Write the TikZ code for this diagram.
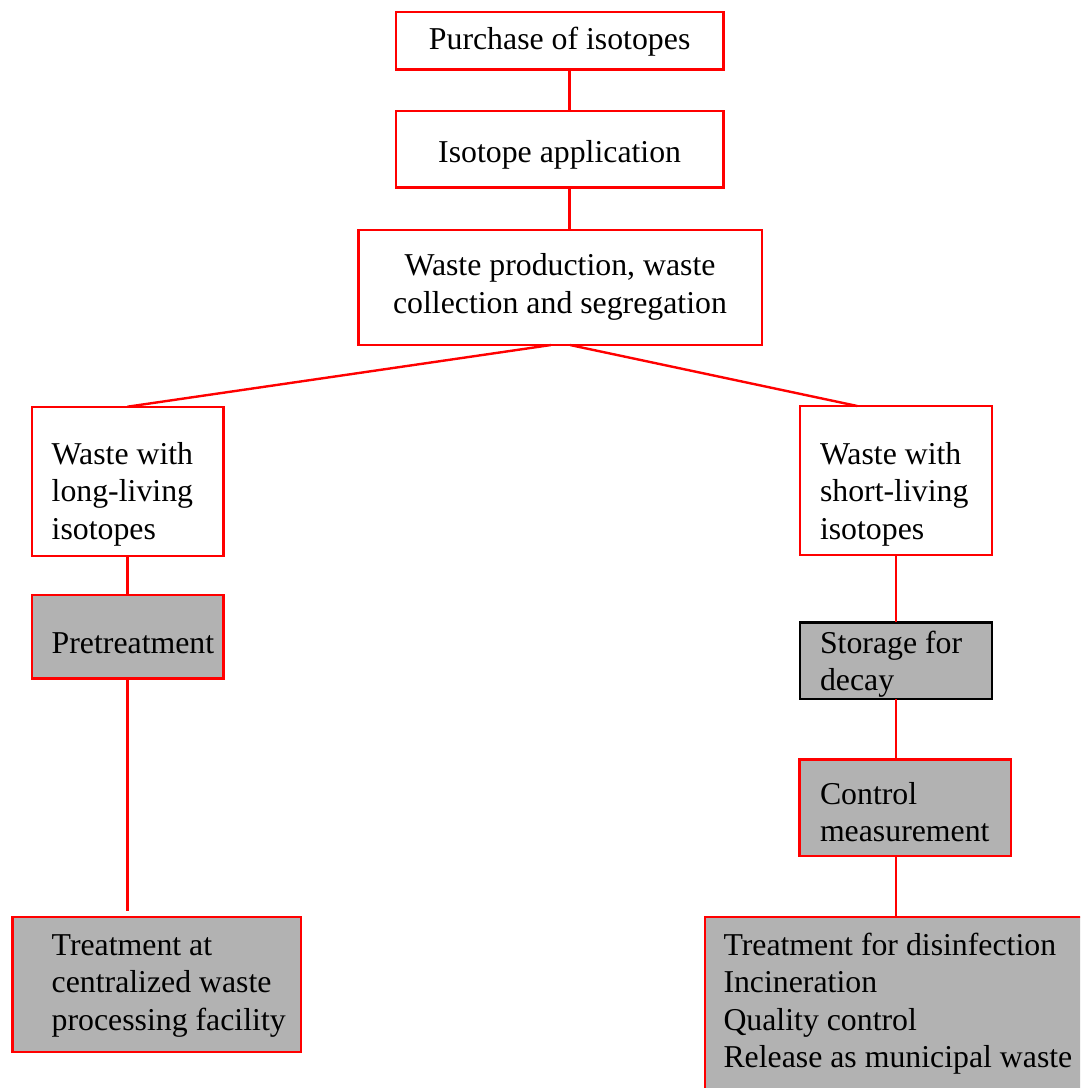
\documentclass[tikz,border=0pt]{standalone}
\usepackage{fontspec}
\setmainfont{Liberation Serif}
\definecolor{bred}{RGB}{255,0,0}
\definecolor{bgray}{RGB}{178,178,178}
\begin{document}
\begin{tikzpicture}[x=1pt,y=-1pt,
  box/.style={draw=bred,line width=2.4pt,rectangle,inner sep=0pt,outer sep=0pt},
  graybox/.style={box,fill=bgray},
  txt/.style={inner sep=0pt,outer sep=0pt,font=\fontsize{31.8}{37.6}\selectfont},
  ltxt/.style={txt,anchor=base west,text width=400pt,align=flush left},
  ctxt/.style={txt,anchor=base},
  conn/.style={draw=bred,line width=2.4pt}]
\clip (0,0) rectangle (1080,1088);
\fill[white] (0,0) rectangle (1080,1088);
% boxes
\node[box,minimum width=327.3pt,minimum height=57.6pt] (b1) at (559.65,40.5) {};
\node[box,minimum width=327.3pt,minimum height=76.6pt] (b2) at (559.65,149) {};
\node[box,minimum width=403.4pt,minimum height=115pt] (b3) at (560,287.5) {};
\node[box,minimum width=191.6pt,minimum height=149.3pt] (L) at (127.5,481.35) {};
\node[graybox,minimum width=191.6pt,minimum height=83.3pt] (P) at (127.5,636.65) {};
\node[graybox,minimum width=288.7pt,minimum height=135pt] (T) at (156.65,984.2) {};
\node[box,minimum width=191.7pt,minimum height=149pt] (R) at (895.85,480.5) {};
\node[graybox,draw=black,minimum width=191.7pt,minimum height=76.7pt] (S) at (895.85,660.65) {};
\node[graybox,minimum width=211.7pt,minimum height=96.4pt] (C) at (905.15,807.5) {};
\node[graybox,minimum width=400pt,minimum height=200pt] (BR) at (905,1016.7) {};
% texts
\node[ctxt] (t1) at (559.65,49.3) {Purchase of isotopes};
\node[ctxt] (t2) at (559.65,162.7) {Isotope application};
\node[txt,anchor=base,text width=400pt,align=flush center] (t3) at (560,275.7) {Waste production, waste\\collection and segregation};
\node[ltxt] (tL) at (51.7,464) {Waste with\\long-living\\isotopes};
\node[ltxt] (tP) at (51.7,653.3) {Pretreatment};
\node[ltxt] (tT) at (51.7,955) {Treatment at\\centralized waste\\processing facility};
\node[ltxt] (tR) at (820,464) {Waste with\\short-living\\isotopes};
\node[ltxt] (tS) at (820,653.3) {Storage for\\decay};
\node[ltxt] (tC) at (820,804.3) {Control\\measurement};
\node[ltxt] (tBR) at (723.5,955) {Treatment for disinfection\\Incineration\\Quality control\\Release as municipal waste};
% connectors
\coordinate (c1) at (569.3,0);
\coordinate (b3a) at (551,345);
\coordinate (b3b) at (570,345);
\coordinate (Ra) at (857.3,406);
\coordinate (Tn) at (127.5,911);
\draw[conn] (b1.south -| c1) -- (b2.north -| c1);
\draw[conn] (b2.south -| c1) -- (b3.north -| c1);
\draw[conn] (b3a) -- (L.north);
\draw[conn] (b3b) -- (Ra);
\draw[conn] (L.south) -- (P.north);
\draw[conn] (P.south) -- (Tn);
\draw[conn] (R.south) -- (S.north);
\draw[conn] (S.south) -- (C.north -| S.south);
\draw[conn] (C.south -| S.south) -- (BR.north -| S.south);
\end{tikzpicture}
\end{document}
